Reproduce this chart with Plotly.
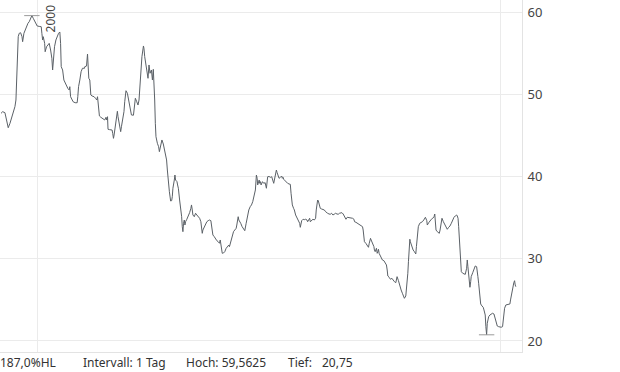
import pandas as pd
import plotly.graph_objects as go

# Day offsets counted from 1999-12-02, and closing prices
start_date = "1999-12-02"
days = [
    0.8, 2.1, 3.9, 4.7, 5.8, 6.5, 7.9, 10.0, 11.8, 12.6, 13.2, 14.4, 15.2, 16.3, 17.4, 17.9,
    18.9, 20.0, 21.1, 22.1, 23.1, 24.2, 25.2, 26.3, 27.4, 28.4, 29.4, 31.0, 32.6, 33.1, 33.7,
    34.2, 35.3, 35.7, 36.8, 37.9, 38.9, 40.0, 41.0, 41.6, 42.0, 43.1, 44.2, 45.2, 46.3, 47.3,
    47.9, 48.4, 49.5, 50.5, 51.5, 52.6, 53.6, 54.7, 55.2, 55.8, 56.8, 57.8, 59.4, 61.0, 61.5,
    62.1, 63.1, 64.1, 65.2, 66.8,
    67.0, 68.4, 69.2, 69.7, 70.2, 71.0, 71.8, 72.8, 74.4, 75.5, 76.5, 77.1, 77.5, 78.1, 78.6,
    79.7, 80.7, 81.8, 82.8, 83.8, 84.4, 85.0, 85.4, 86.5, 87.6, 88.6, 89.1, 89.7, 90.2, 90.7,
    91.3, 92.3, 92.8, 93.3, 94.4, 95.4, 96.0, 97.0, 98.0, 98.6, 99.6, 100.7, 101.8, 102.8,
    103.9, 105.5, 106.5, 107.0, 108.1, 109.1, 109.9, 110.7, 111.2, 112.2, 113.4, 113.8, 114.4,
    115.2, 116.0, 117.0, 117.8, 118.6, 119.7, 120.5, 121.2, 121.7, 122.3, 122.8, 123.3, 124.4,
    125.4, 126.0, 127.0, 128.0, 129.1, 130.2, 131.2, 131.7, 132.3, 132.8, 133.9, 134.9,
    135.7, 136.2, 136.7, 137.8, 138.3, 138.8, 139.9, 140.4, 141.0, 142.0, 143.0, 143.6, 144.1,
    144.6, 145.1, 145.7, 146.2, 146.7, 147.7, 148.8, 149.9, 150.9, 151.4, 152.0, 152.5, 153.6,
    154.6, 155.6, 156.7, 157.8, 158.8, 159.3, 159.9, 160.4, 161.5, 162.5, 163.5, 164.6, 165.6,
    166.7, 167.2, 168.3, 169.4, 170.4, 171.4, 172.5, 173.5, 174.1, 174.6, 175.1, 175.7, 176.7,
    177.7, 178.8, 179.8, 180.9, 181.4, 182.4, 183.6, 184.6, 185.6, 186.7, 187.2, 188.3, 188.8,
    189.3, 190.3, 191.4, 192.5, 193.5, 194.6, 195.6, 196.7, 197.8, 198.8, 199.8, 200.9,
    201.9, 202.7, 203.3, 203.7, 204.3, 204.9, 205.3, 205.9, 206.4, 207.5, 208.5, 209.6, 210.6,
    211.2, 211.6, 212.7, 213.8, 214.8, 215.9, 216.4, 216.9, 217.9, 218.5, 219.1, 219.5, 220.6,
    221.7, 222.7, 223.2, 223.8, 224.3, 225.4, 226.4, 227.4, 228.5, 229.5, 230.1, 230.6, 231.1,
    232.1, 232.7, 233.7, 234.8, 235.9, 236.9, 237.4, 238.0, 238.5, 239.6, 240.6, 241.6, 242.7,
    243.2, 244.3, 244.8, 245.3, 246.3, 247.4, 248.5, 249.5, 250.0, 250.6, 251.1, 251.6, 252.2,
    252.7, 253.2, 254.2, 255.3, 256.4, 257.4, 258.5, 259.0, 260.1, 261.1, 262.1, 263.2, 264.2,
    265.3, 266.4, 267.4, 268.4,
    270.3, 271.3, 272.4, 273.5, 274.5, 275.5, 276.6, 277.7, 278.7, 279.8, 280.3, 281.4, 282.4,
    283.4, 284.5, 285.5, 286.6, 287.1, 287.7, 288.1, 289.2, 290.3, 291.3, 291.9, 292.9, 293.4,
    294.5, 295.6, 296.0, 296.6, 297.6, 298.2, 298.7, 299.2, 299.7, 300.3, 301.3, 302.3, 303.5,
    304.5, 305.5, 306.1, 306.6, 307.6, 308.7, 309.8, 310.8, 311.8, 312.9, 313.4, 313.9, 315.0,
    315.5, 316.5, 317.1, 318.1, 319.2, 319.7, 320.8, 321.3, 321.8, 322.4, 322.9, 323.4, 324.0,
    324.4, 325.5, 326.6, 327.6, 328.7, 329.2, 329.7, 330.3, 330.7, 331.8, 332.9, 333.9, 335.0,
    336.3, 337.4, 337.8, 338.9, 340.0, 341.0, 342.1, 343.1, 343.7, 344.2, 344.7, 345.7, 346.8,
    347.3, 347.9, 348.9, 349.4, 350.5, 351.6, 352.6, 353.6, 354.7, 355.7, 356.8, 357.9, 358.9,
    359.9, 361.0, 361.5, 362.1, 362.6, 363.1, 363.6, 364.2, 364.7, 365.8, 366.8, 367.8, 368.9,
    369.4, 369.9, 370.5, 371.0, 371.5, 372.1, 372.5, 373.7, 374.7, 375.7, 376.8, 377.3, 377.8,
    378.4, 378.9, 379.4, 380.0, 381.0, 382.0, 382.6, 383.1, 383.6, 384.1, 384.7, 385.2, 385.7,
    386.3, 387.3, 388.3, 389.4, 390.5, 391.0, 391.5, 392.0, 393.1, 394.2, 395.2, 396.2, 397.3,
    397.8, 398.3, 398.9, 399.9, 400.9, 402.0, 403.1, 403.6, 404.1, 404.7, 405.2, 405.7, 406.2,
    406.8, 407.3, 407.8,
]
prices = [
    47.68, 47.88, 47.76, 47.27, 46.66, 45.93, 46.47, 47.48, 48.49, 49.30, 51.73, 57.00, 57.41,
    57.48, 57.00, 56.39, 57.41, 57.81, 58.42, 58.63, 58.82, 59.23, 59.5625, 59.23, 58.94, 58.63,
    58.30, 58.25, 58.21, 57.41, 56.60, 57.00, 56.19, 55.17, 55.78, 55.99, 56.19, 55.38, 54.37,
    52.95, 53.76, 55.78, 56.60, 57.00, 57.41, 57.57, 56.19, 53.35, 52.95, 51.73, 51.33, 50.92,
    50.72, 50.52, 50.92, 49.70, 49.30, 49.09, 48.97, 48.97, 49.70, 50.92, 51.73, 52.74, 53.16,
    53.16,
    53.35, 53.43, 54.89, 53.76, 51.94, 51.73, 49.91, 49.79, 49.70, 49.51, 49.30, 49.70, 48.69,
    48.49, 47.36, 47.20, 47.08, 46.95, 46.87, 47.20, 46.87, 47.27, 45.74, 45.70, 45.65, 45.65,
    45.25, 44.64, 45.05, 45.65, 46.05, 47.27, 47.93, 47.27, 46.47, 45.45, 46.05, 46.87, 47.88,
    49.09, 50.43, 50.12, 49.30, 48.29, 47.48, 47.45, 48.90, 49.51, 49.09, 48.69, 49.30, 51.33,
    52.55, 54.57, 55.87, 55.59, 54.57, 53.76, 52.55, 51.94, 53.56, 52.55, 52.95, 51.73, 53.03,
    51.73, 49.30, 46.47, 44.84, 44.04, 43.62, 43.02, 43.83, 44.44, 43.95, 42.89, 42.21, 42.01,
    40.79, 39.57, 38.15, 37.02,
    37.06, 37.54, 38.57, 39.57, 40.18, 39.57, 39.37, 38.97, 38.57, 37.14, 36.13, 35.11, 33.90,
    33.29, 34.31, 34.71, 34.10, 34.50, 34.80, 35.11, 35.60, 36.13, 36.54, 35.93, 35.32, 35.11,
    35.53, 35.32, 35.11, 34.92, 34.50, 33.90, 33.09, 33.49, 33.90, 34.31, 34.50, 34.63, 34.71,
    34.63, 33.90, 32.89, 32.68, 32.37, 32.20, 32.07, 31.88, 32.28, 31.67, 31.06, 30.66, 30.70,
    30.86, 31.27, 31.47, 31.67, 31.47, 32.07, 32.89, 33.29, 33.49, 33.70, 34.10, 35.11, 34.71,
    34.50, 34.31, 33.90, 33.70, 33.41, 34.31, 35.11, 35.93, 36.33, 36.54, 36.94, 37.54,
    38.36, 40.18, 39.78, 38.97, 39.37, 39.57, 39.17, 39.37, 38.97, 39.37, 39.17, 39.25, 38.57,
    39.17, 39.97, 40.00, 39.90, 39.97, 39.37, 39.17, 39.57, 40.18, 40.79, 40.46, 40.18, 39.78,
    39.90, 40.06, 39.78, 39.90, 39.66, 39.49, 39.25, 39.17, 39.09, 39.05, 37.96, 37.14, 36.54,
    36.13, 35.93, 35.32, 34.92, 34.50, 34.31, 33.82, 34.23, 34.63, 34.80, 34.75, 34.80, 34.71,
    34.50, 34.71, 34.92, 34.50, 34.71, 34.80, 34.71, 34.92, 35.93, 36.94, 37.14, 37.06, 36.54,
    36.33, 36.13, 36.05, 36.01, 35.93, 35.72, 35.65, 35.53, 35.44, 35.41, 35.53, 35.32, 35.41,
    35.53, 35.44, 35.41, 35.53,
    35.60, 35.44, 35.11, 34.80, 35.04, 35.00, 35.04, 34.95, 34.92, 34.80, 34.50, 34.43, 34.31,
    34.25, 34.10, 33.98, 33.90, 33.49, 32.68, 32.07, 31.88, 31.55, 31.39, 31.88, 32.48, 32.28,
    31.88, 31.47, 31.06, 30.86, 31.27, 30.66, 30.86, 31.15, 30.66, 30.46, 30.25, 29.85, 29.76,
    29.44, 29.24, 28.63, 27.90, 27.75, 27.50, 27.62, 27.33, 27.21, 27.09, 27.42, 27.82, 27.33,
    27.02, 26.60, 26.20, 25.80, 25.47, 25.19, 25.47, 26.20, 27.02, 28.23, 29.64, 31.47, 32.37,
    32.07, 31.47, 31.06, 30.86, 30.58, 31.47, 32.48, 33.29, 33.90, 34.31, 34.38, 34.50, 34.71,
    35.04, 34.63, 34.10, 34.38, 34.63, 34.80, 34.92, 35.11, 35.44, 34.71, 33.49, 33.29, 33.17,
    33.09, 33.49, 34.31, 34.92, 34.50, 34.23, 33.90, 33.58, 33.82, 33.98, 34.31, 34.80, 35.04,
    35.20, 35.32, 35.20, 34.92, 33.90, 32.68, 31.88, 30.66, 28.43, 28.23, 28.15, 28.10, 28.84,
    29.85, 29.03, 27.82, 27.21, 26.53, 27.21, 27.82, 28.30, 28.84, 29.12, 29.03, 28.63, 27.82,
    27.02, 26.00, 25.19, 24.50, 24.26, 24.10, 23.77, 23.37, 23.16, 21.74, 20.75, 22.15, 22.55,
    22.95, 23.16, 23.28, 23.37, 23.28, 22.95, 22.55, 22.15, 21.82, 21.74, 21.70, 21.67, 21.74,
    22.35, 23.16, 23.98, 24.38, 24.42, 24.45, 24.50, 24.99, 25.31, 25.80, 26.20, 26.69, 27.09,
    27.33, 26.81, 26.60,
]

y_ticks = [20, 30, 40, 50, 60]
year_ticks = ["2000-01-01", "2001-01-01"]
year_label = "2000"
x_range = ["1999-12-02", "2001-01-17 16:00"]
y_range = [18.66, 61.46]

high_value = 59.5625
low_value = 20.75
footer = ["187,0%HL", "Intervall: 1 Tag", "Hoch: 59,5625", "Tief:", "20,75"]
footer_x = [0.0, 0.159, 0.3563, 0.5517, 0.6169]

dates = pd.Timestamp(start_date) + pd.to_timedelta(days, unit="D")
hi_idx = prices.index(high_value)
lo_idx = prices.index(low_value)

line_color = "#5b6167"
grid_color = "#ebebeb"
marker_color = "#9a9a9a"
font_family = "Noto Sans"

fig = go.Figure()
fig.add_trace(go.Scatter(
    x=dates, y=prices, mode="lines",
    line=dict(color=line_color, width=1), hoverinfo="skip", showlegend=False,
))
fig.add_trace(go.Scatter(
    x=[dates[hi_idx], dates[lo_idx]], y=[high_value, low_value], mode="markers",
    marker=dict(symbol="line-ew-open", size=11, color=marker_color,
                line=dict(color=marker_color, width=1)),
    hoverinfo="skip", showlegend=False,
))

fig.update_layout(
    width=620, height=372,
    margin=dict(l=0, r=98, t=0, b=20),
    paper_bgcolor="white", plot_bgcolor="white",
    font=dict(family=font_family, size=12, color="#444444"),
    xaxis=dict(
        type="date", range=x_range, tickvals=year_ticks, showticklabels=False,
        showgrid=True, gridcolor=grid_color, gridwidth=1, zeroline=False,
        showline=True, linecolor="#e3e3e3", linewidth=1, ticks="",
    ),
    yaxis=dict(
        side="right", range=y_range, tickvals=y_ticks, showgrid=True,
        gridcolor=grid_color, gridwidth=1, zeroline=False,
        showline=True, linecolor="#e3e3e3", linewidth=1, ticks="",
        ticklabelstandoff=2, tickfont=dict(size=13, color="#444444"),
    ),
)

fig.add_annotation(
    x=year_ticks[0], xref="x", y=1, yref="paper", text=year_label,
    textangle=-90, showarrow=False, xanchor="left", yanchor="top",
    xshift=2, yshift=-2, font=dict(size=12, color="#444444"),
)

for label, fx in zip(footer, footer_x):
    fig.add_annotation(
        x=fx, xref="paper", y=-0.029, yref="paper", text=label,
        showarrow=False, xanchor="left", yanchor="middle", xshift=-2,
        font=dict(size=12, color="#333333"),
    )

fig.write_html("out.html")
